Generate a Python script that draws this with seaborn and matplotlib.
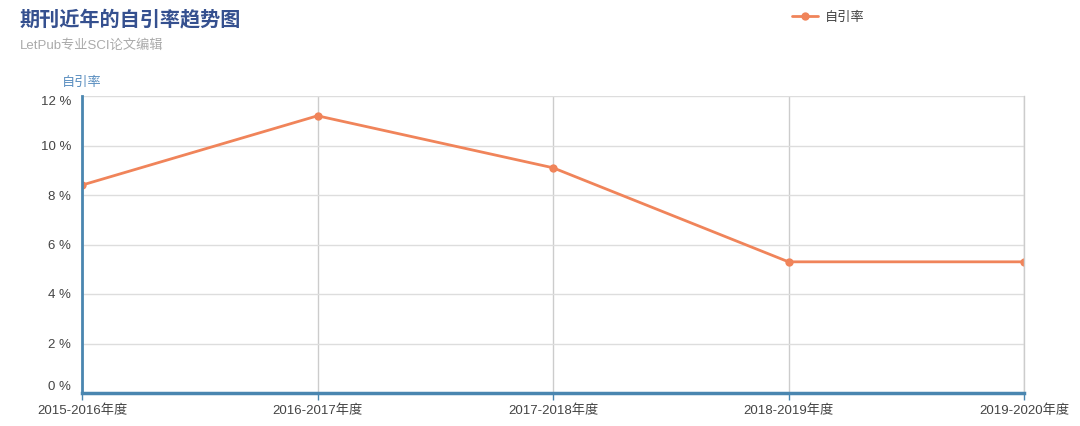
import matplotlib
matplotlib.use("Agg")
import matplotlib.pyplot as plt
import pandas as pd
import seaborn as sns
from matplotlib.ticker import FuncFormatter

# data
years = ["2015-2016年度", "2016-2017年度", "2017-2018年度", "2018-2019年度", "2019-2020年度"]
self_cite_rate = [8.4, 11.2, 9.1, 5.3, 5.3]
y_ticks = [0, 2, 4, 6, 8, 10, 12]

df = pd.DataFrame({"year": years, "rate": self_cite_rate})

sns.set_theme(style="white")
plt.rcParams["font.family"] = ["Liberation Sans", "Noto Sans CJK SC", "DejaVu Sans"]

line_color = "#f0845a"
axis_blue = "#4a86b0"

fig = plt.figure(figsize=(10.8, 4.26), dpi=100)
ax = fig.add_axes([82 / 1080, 33 / 426, 942 / 1080, 297 / 426])

sns.lineplot(
    data=df, x="year", y="rate", ax=ax,
    color=line_color, linewidth=2, marker="o", markersize=6,
    markeredgewidth=0, label="自引率", sort=False,
)

ax.set_xlim(0, len(years) - 1)
ax.set_ylim(0, 12)
ax.set_yticks(y_ticks)
ax.yaxis.set_major_formatter(FuncFormatter(lambda v, p: f"{v:.0f} %"))
ax.set_xlabel("")
ax.set_ylabel("")

# grid lines
ax.grid(True, axis="y", color="#dddddd", linewidth=1)
ax.grid(True, axis="x", color="#cccccc", linewidth=1)
ax.set_axisbelow(True)

ax.spines["top"].set_visible(False)
ax.spines["right"].set_color("#cccccc")
ax.spines["right"].set_linewidth(1)
ax.spines["left"].set_color(axis_blue)
ax.spines["left"].set_linewidth(2)
ax.spines["bottom"].set_color(axis_blue)
ax.spines["bottom"].set_linewidth(2.5)

ax.tick_params(axis="y", length=0, pad=8, labelsize=9.5, labelcolor="#444444")
ax.tick_params(axis="x", length=5, width=1, color=axis_blue, direction="out",
               bottom=True, pad=3, labelsize=9.5, labelcolor="#444444")

# ends of the y axis labels sit inside the plot like in the original
ylabels = ax.get_yticklabels()
ylabels[0].set_va("bottom")
ylabels[-1].set_va("top")

# legend at the top
ax.get_legend().remove()
handles, labels = ax.get_legend_handles_labels()
fig.legend(handles, labels, loc="center left", bbox_to_anchor=(780 / 1080, 1 - 18 / 426),
           frameon=False, fontsize=9.5, handlelength=2.0, handletextpad=0.5,
           labelcolor="#444444")

# titles
fig.text(20 / 1080, 1 - 19 / 426, "期刊近年的自引率趋势图", fontsize=14.5,
         fontweight="bold", color="#35508f", va="center", ha="left")
fig.text(20 / 1080, 1 - 46 / 426, "LetPub专业SCI论文编辑", fontsize=9.5,
         color="#aaaaaa", va="center", ha="left")
fig.text(62 / 1080, 1 - 83 / 426, "自引率", fontsize=9.5,
         color="#5b8fc0", va="center", ha="left")

fig.savefig("out.png", dpi=100)
